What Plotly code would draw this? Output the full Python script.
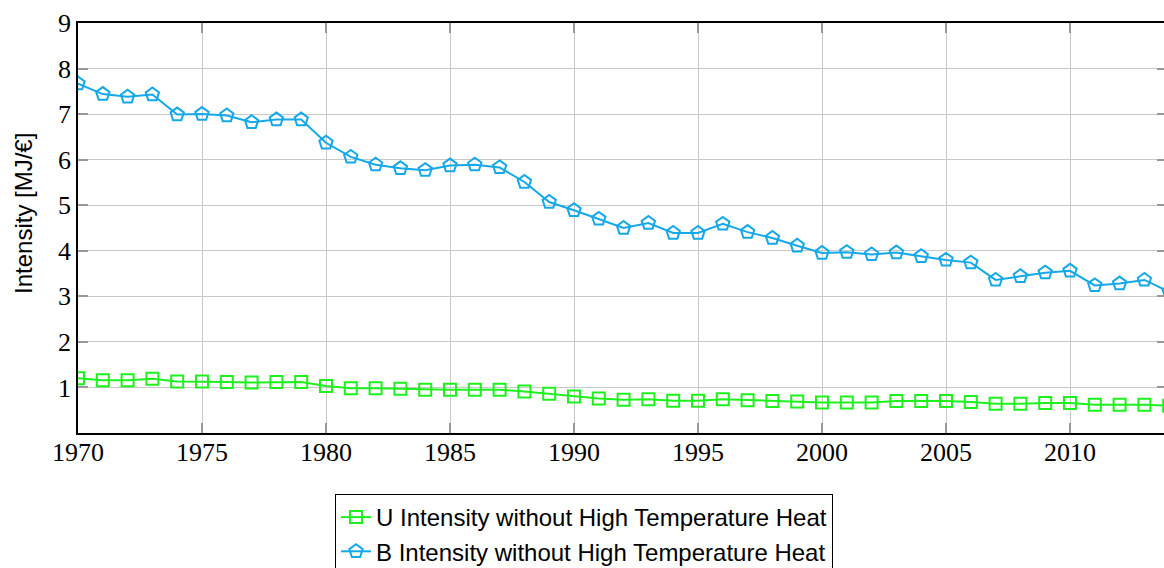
import plotly.graph_objects as go

years = list(range(1970, 2015))

u_intensity = [1.20, 1.16, 1.16, 1.19, 1.13, 1.13, 1.12, 1.11, 1.12, 1.12,
               1.03, 0.98, 0.98, 0.97, 0.95, 0.95, 0.95, 0.95, 0.91, 0.86,
               0.80, 0.76, 0.73, 0.74, 0.71, 0.71, 0.74, 0.72, 0.70, 0.69,
               0.67, 0.67, 0.67, 0.70, 0.70, 0.70, 0.68, 0.64, 0.64, 0.66,
               0.66, 0.62, 0.62, 0.62, 0.60]

b_intensity = [7.67, 7.44, 7.38, 7.43, 6.99, 7.00, 6.97, 6.82, 6.88, 6.88,
               6.37, 6.06, 5.89, 5.81, 5.77, 5.87, 5.89, 5.83, 5.51, 5.07,
               4.89, 4.70, 4.50, 4.61, 4.39, 4.39, 4.59, 4.41, 4.28, 4.11,
               3.95, 3.97, 3.92, 3.96, 3.88, 3.80, 3.74, 3.36, 3.44, 3.52,
               3.56, 3.24, 3.28, 3.36, 3.10]

x_ticks = [1970, 1975, 1980, 1985, 1990, 1995, 2000, 2005, 2010]
y_ticks = [1, 2, 3, 4, 5, 6, 7, 8, 9]
y_title = "Intensity [MJ/€]"

GREEN = "#1EF01E"
BLUE = "#14A8E8"

fig = go.Figure()
fig.add_trace(go.Scatter(
    x=years, y=u_intensity, mode="lines+markers",
    name="U Intensity without High Temperature Heat",
    line=dict(color=GREEN, width=2),
    marker=dict(symbol="square-open", size=12, color=GREEN, line=dict(width=2, color=GREEN)),
))
fig.add_trace(go.Scatter(
    x=years, y=b_intensity, mode="lines+markers",
    name="B Intensity without High Temperature Heat",
    line=dict(color=BLUE, width=2),
    marker=dict(symbol="pentagon-open", size=14, color=BLUE, line=dict(width=2, color=BLUE)),
))
# empty trace so the right-hand tick-only axis is drawn
fig.add_trace(go.Scatter(x=[None], y=[None], yaxis="y2", showlegend=False,
                         hoverinfo="skip", mode="lines"))

serif = "Liberation Serif"
sans = "Liberation Sans"

W, H = 1164, 568
L, T, B = 78, 23, 568 - 433
plot_w = W - L
plot_h = H - T - B

fig.update_layout(
    width=W, height=H,
    margin=dict(l=L, r=0, t=T, b=B, autoexpand=False),
    plot_bgcolor="white", paper_bgcolor="white",
    showlegend=True,
    legend=dict(
        xref="container", yref="container",
        x=584 / W, xanchor="center", y=1 - 494 / H, yanchor="top",
        bordercolor="black", borderwidth=1,
        font=dict(family=sans, size=24, color="black"),
        tracegroupgap=0, itemwidth=30,
    ),
    xaxis=dict(
        range=[1970, 2013.79],
        tickvals=x_ticks, ticktext=[str(v) for v in x_ticks], tickangle=0,
        tickfont=dict(family=serif, size=26, color="black"),
        ticklabelstandoff=-5,
        showgrid=True, gridcolor="#c8c8c8", gridwidth=1,
        showline=True, linecolor="black", linewidth=1.5, mirror="ticks",
        ticks="inside", ticklen=10, tickcolor="#999999", tickwidth=1.5,
        zeroline=False,
    ),
    yaxis=dict(
        range=[0, 9],
        tickvals=y_ticks, ticktext=[str(v) for v in y_ticks],
        tickfont=dict(family=serif, size=26, color="black"),
        showgrid=True, gridcolor="#c8c8c8", gridwidth=1,
        showline=True, linecolor="black", linewidth=1.5, mirror=False,
        ticks="inside", ticklen=10, tickcolor="#999999", tickwidth=1.5,
        zeroline=False,
    ),
    yaxis2=dict(
        overlaying="y", side="right", range=[0, 9],
        tickvals=y_ticks, showticklabels=False,
        showgrid=False, showline=False, zeroline=False,
        ticks="inside", ticklen=7, tickcolor="#999999", tickwidth=1.5,
    ),
    annotations=[dict(
        text=y_title, textangle=-90, showarrow=False,
        xref="paper", yref="paper",
        x=(23 - L) / plot_w, y=(433 - 214) / plot_h,
        xanchor="center", yanchor="middle",
        font=dict(family=sans, size=24, color="black"),
    )],
)

fig.write_html(
    "out.html",
    config={"displayModeBar": False},
    post_script="document.body.style.margin='0';document.body.style.overflow='hidden';",
)
